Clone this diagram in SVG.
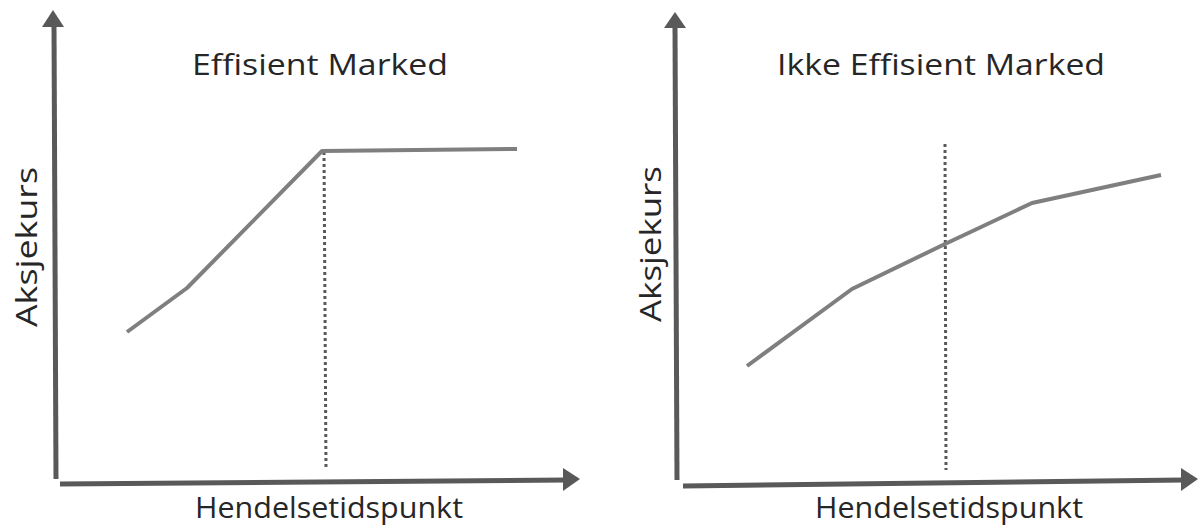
<svg xmlns="http://www.w3.org/2000/svg" width="1199" height="527" viewBox="0 0 1199 527">
<style>
.axis{stroke:#595959;stroke-width:5;fill:none}
.head{fill:#595959}
.curve{stroke:#7f7f7f;stroke-width:4;fill:none;stroke-linejoin:round}
.dot{stroke:#595959;stroke-width:3;stroke-dasharray:3 3;fill:none}
.t{font-family:"Open Sans","Liberation Sans",sans-serif;fill:#262626;font-size:30px}
</style>
<rect width="1199" height="527" fill="#fff"/>
<g id="chart-left">
<g id="axes-left">
<line class="axis" x1="56" y1="479" x2="54" y2="24"/>
<polygon class="head" points="53,10 64,27 42,27"/>
<line class="axis" x1="60" y1="484" x2="566" y2="480"/>
<polygon class="head" points="580,479 563,468 563,491"/>
</g>
<line class="dot" x1="324" y1="152" x2="326" y2="470"/>
<polyline class="curve" points="127,332 187,288 322,151 517,149"/>
<text class="t" x="192" y="75" textLength="256" lengthAdjust="spacingAndGlyphs">Effisient Marked</text>
<text class="t" x="195" y="518" textLength="268" lengthAdjust="spacingAndGlyphs">Hendelsetidspunkt</text>
<text class="t" transform="translate(37,327) rotate(-90)" textLength="160" lengthAdjust="spacingAndGlyphs">Aksjekurs</text>
</g>
<g id="chart-right">
<g id="axes-right">
<line class="axis" x1="677" y1="480" x2="675" y2="26"/>
<polygon class="head" points="675,12 686,28 664,28"/>
<line class="axis" x1="683" y1="486" x2="1184" y2="480"/>
<polygon class="head" points="1198,479 1181,468 1181,491"/>
</g>
<line class="dot" x1="945" y1="144" x2="946" y2="470"/>
<polyline class="curve" points="747,366 852,289 945,244 1032,203 1161,175"/>
<text class="t" x="777" y="75" textLength="328" lengthAdjust="spacingAndGlyphs">Ikke Effisient Marked</text>
<text class="t" x="815" y="518" textLength="268" lengthAdjust="spacingAndGlyphs">Hendelsetidspunkt</text>
<text class="t" transform="translate(661,322) rotate(-90)" textLength="156" lengthAdjust="spacingAndGlyphs">Aksjekurs</text>
</g>
</svg>
